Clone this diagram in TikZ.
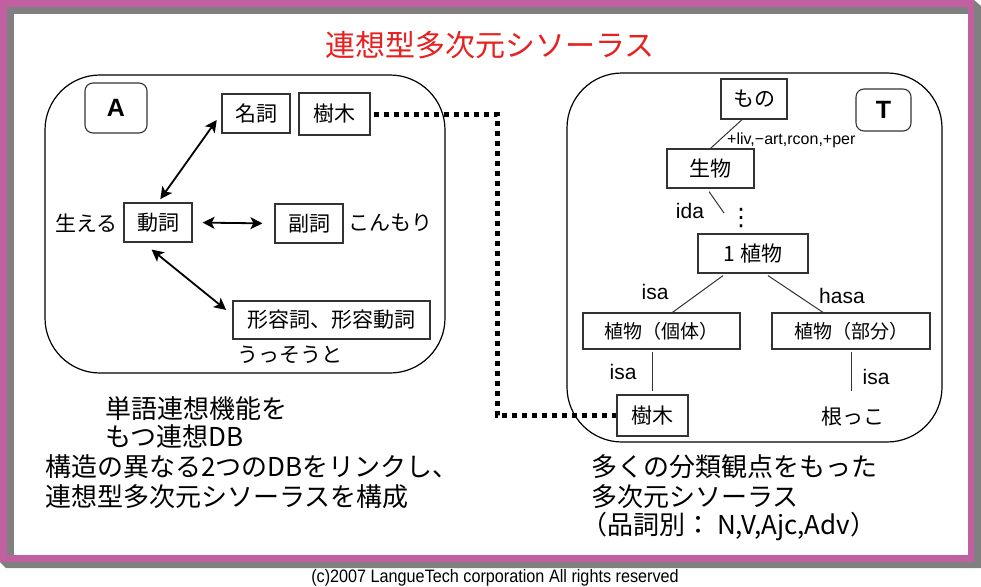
\documentclass[tikz,border=0pt]{standalone}
\usepackage{fontspec}
\setmainfont{Noto Sans CJK JP}
\newfontfamily\latf{Liberation Sans}
\newfontfamily\latnarrow[FakeStretch=0.9]{Liberation Sans}
\newfontfamily\djf{DejaVu Sans}
\usetikzlibrary{arrows.meta,calc}
\definecolor{framepink}{RGB}{192,96,160}
\definecolor{framegray}{RGB}{128,128,128}
\definecolor{titlered}{RGB}{232,32,32}
\begin{document}
\begin{tikzpicture}[x=1pt,y=-1pt,
  wbox/.style={draw=black!80, line width=1.2, inner sep=0, font=\fontsize{21}{24}\selectfont},
  wboxs/.style={wbox, font=\fontsize{19}{22}\selectfont},
  bigbox/.style={draw=black, line width=1.2, rounded corners=55, inner sep=0},
  labbox/.style={draw=black!80, line width=1.1, rounded corners=8, inner sep=0, font=\latf\bfseries\fontsize{25}{25}\selectfont},
  txt/.style={inner sep=0, font=\fontsize{21}{24}\selectfont},
  lbl/.style={inner sep=0, font=\latf\fontsize{21}{24}\selectfont},
  big/.style={inner sep=0, anchor=west, font=\fontsize{26}{30}\selectfont},
  dbl/.style={{Stealth[length=12pt,width=12pt,inset=3pt]}-{Stealth[length=12pt,width=12pt,inset=3pt]}, line width=1.8},
  thinl/.style={draw=black!80, line width=1},
  dotline/.style={line width=5, dash pattern=on 5pt off 5pt}
]
\useasboundingbox (0,0) rectangle (981,586);
\fill[white] (0,0) rectangle (981,586);
% frame
\fill[framegray] (974,0) -- (981,6) -- (981,568) -- (6,568) -- (0,562) -- cycle;
\fill[framepink] (0,0) rectangle (974,562);
\fill[framegray] (7,7) rectangle (968,555);
\fill[white] (14,14) rectangle (968,555);

% title
\node[inner sep=0, text=titlered, font=\fontsize{30}{34}\selectfont] (title) at (490,45) {連想型多次元シソーラス};

% ---- left box A ----
\node[bigbox, minimum width=400, minimum height=298] (boxA) at (245,224) {};
\node[labbox, minimum width=62, minimum height=50] (labA) at (116,108) {A};
\node[wbox, minimum width=68, minimum height=39] (meishi) at (256,113.5) {名詞};
\node[wbox, minimum width=71, minimum height=42] (jumokuA) at (334.5,114) {樹木};
\node[wbox, minimum width=68, minimum height=39] (doushi) at (158,222.5) {動詞};
\node[txt, anchor=east] (haeru) at (118,223) {生える};
\node[wbox, minimum width=68, minimum height=39] (fukushi) at (309,223.5) {副詞};
\node[txt, anchor=west] (konmori) at (348,223) {こんもり};
\node[wbox, minimum width=197, minimum height=38] (keiyou) at (331.5,320) {形容詞、形容動詞};
\node[txt] (ussou) at (290,355) {うっそうと};

\draw[dbl, shorten <=4pt, shorten >=8pt] (doushi.north) -- (meishi.west);
\draw[dbl, shorten <=10pt, shorten >=12pt] (doushi.east) -- (fukushi.west);
\draw[dbl, shorten <=11pt, shorten >=8pt] ([xshift=-15pt]doushi.south) -- ([yshift=5pt]keiyou.west);

% ---- right box T ----
\node[bigbox, minimum width=375, minimum height=369] (boxT) at (754.5,257.5) {};
\node[labbox, minimum width=55, minimum height=42] (labT) at (883.5,110) {T};
\node[wbox, minimum width=66, minimum height=40] (mono) at (754,99) {もの};
\node[wbox, minimum width=87, minimum height=39] (seibutsu) at (710.5,168.5) {生物};
\node[inner sep=0, anchor=west, font=\latf\fontsize{16}{18}\selectfont] (feat) at (727,140) {+liv,−art,rcon,+per};
\node[lbl] (ida) at (690,211) {ida};
\node[inner sep=0, font=\djf\fontsize{24}{26}\selectfont] (vdots) at (741,218) {⋮};
\node[wbox, minimum width=110, minimum height=39] (shoku1) at (753,253.5) {1 植物};
\node[lbl] (isa1) at (655,292) {isa};
\node[lbl] (hasa) at (842,296) {hasa};
\node[wboxs, minimum width=157, minimum height=36] (kotai) at (661.5,331) {植物（個体）};
\node[wboxs, minimum width=158, minimum height=36] (bubun) at (851,331) {植物（部分）};
\node[lbl] (isa2) at (623,372) {isa};
\node[lbl] (isa3) at (876,377) {isa};
\node[wbox, minimum width=71, minimum height=41] (jumokuT) at (652.5,415.5) {樹木};
\node[txt] (nekko) at (853,417) {根っこ};

\coordinate (idaend) at (724,213);
\coordinate (isaend) at (851,391);
\draw[thinl] ([xshift=-12pt]mono.south) -- (seibutsu.north);
\draw[thinl] ([xshift=-1.5pt,yshift=-3pt]seibutsu.south) -- (idaend);
\draw[thinl] ([xshift=-30pt,yshift=-2pt]shoku1.south) -- ([xshift=11pt]kotai.north);
\draw[thinl] ([xshift=15pt,yshift=-2pt]shoku1.south) -- ([xshift=-28pt]bubun.north);
\draw[thinl, shorten <=2pt, shorten >=3pt] (jumokuT.north |- kotai.south) -- (jumokuT.north);
\draw[thinl, shorten <=2pt] (bubun.south) -- (isaend);

% ---- dotted link ----
\coordinate (bend) at (497,114);
\draw[dotline, shorten <=3pt] (jumokuA.east) -- (bend) |- (jumokuT.west);

% ---- bottom texts ----
\node[big] (t1) at (105,409) {単語連想機能を};
\node[big] (t2) at (105,437) {もつ連想DB};
\node[big] (t3) at (45,467) {構造の異なる2つのDBをリンクし、};
\node[big] (t4) at (45,497) {連想型多次元シソーラスを構成};
\node[big] (r1) at (591,467) {多くの分類観点をもった};
\node[big] (r2) at (591,497) {多次元シソーラス};
\node[big] (r3) at (581,527) {（品詞別： N,V,Ajc,Adv）};

% copyright
\node[inner sep=0, font=\latnarrow\fontsize{18}{20}\selectfont] (copy) at (495,578) {(c)2007 LangueTech corporation All rights reserved};
\end{tikzpicture}
\end{document}
